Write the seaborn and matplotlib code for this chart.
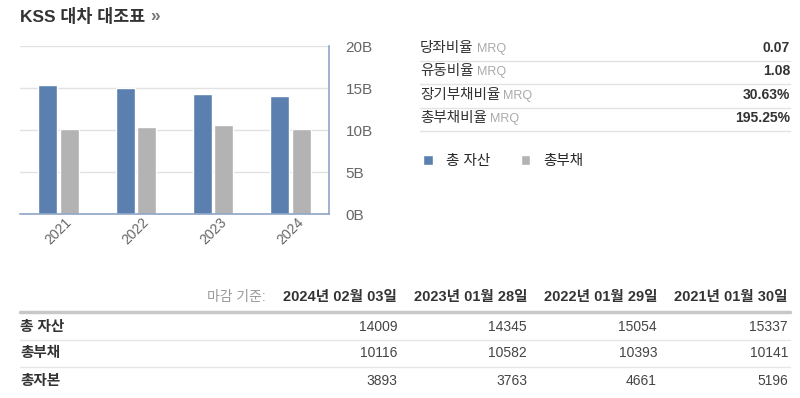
import pandas as pd
import seaborn as sns
import matplotlib.pyplot as plt
from matplotlib.lines import Line2D

# values in millions (USD)
years = ["2021", "2022", "2023", "2024"]
total_assets = [15337, 15054, 14345, 14009]
total_liab = [10141, 10393, 10582, 10116]

ratio_names = ["당좌비율", "유동비율", "장기부채비율", "총부채비율"]
ratio_values = ["0.07", "1.08", "30.63%", "195.25%"]

table_dates = ["2024년 02월 03일", "2023년 01월 28일", "2022년 01월 29일", "2021년 01월 30일"]
table_rows = ["총 자산", "총부채", "총자본"]
table_assets = [14009, 14345, 15054, 15337]
table_liab = [10116, 10582, 10393, 10141]
table_equity = [3893, 3763, 4661, 5196]

BLUE = "#5b80b0"
GRAY = "#b3b3b3"
AXC = "#8ea6c6"

sns.set_style("white")
plt.rcParams["font.family"] = ["Liberation Sans", "Noto Sans CJK KR", "DejaVu Sans"]

W, H = 800, 398
fig = plt.figure(figsize=(W / 100, H / 100), dpi=100)

def fx(px):
    return px / W

def fy(py):
    return 1 - py / H

df = pd.DataFrame({
    "year": years * 2,
    "value": [v / 1000 for v in total_assets] + [v / 1000 for v in total_liab],
    "kind": ["총 자산"] * 4 + ["총부채"] * 4,
})

ax = fig.add_axes([fx(20), fy(214), fx(329) - fx(20), fy(46) - fy(214)])
sns.barplot(data=df, x="year", y="value", hue="kind", palette=[BLUE, GRAY],
            width=0.56, gap=0.12, ax=ax, legend=True, saturation=1)
ax.set_xlim(-0.5, 3.5)
ax.set_ylim(0, 20)
ax.set_yticks([0, 5, 10, 15, 20])
ax.set_yticklabels(["0B", "5B", "10B", "15B", "20B"])
ax.yaxis.tick_right()
ax.tick_params(axis="y", length=0, pad=12, labelsize=11, labelcolor="#666666")
ax.grid(axis="y", color="#e2e2e2", lw=1)
ax.set_axisbelow(True)
ax.set_xlabel("")
ax.set_ylabel("")
ax.set_xticks(range(4))
ax.set_xticklabels(years, rotation=45, ha="center", fontsize=10, color="#666666")
ax.tick_params(axis="x", length=0, pad=1)
ax.set_xticks([0.5, 1.5, 2.5, 3.5], minor=True)
ax.tick_params(axis="x", which="minor", length=5, color=AXC, width=1)
for s in ["top", "left"]:
    ax.spines[s].set_visible(False)
ax.spines["bottom"].set_color(AXC)
ax.spines["right"].set_color(AXC)
ax.spines["bottom"].set_linewidth(1.2)
ax.spines["right"].set_linewidth(1.2)

sns.move_legend(ax, "center left", bbox_to_anchor=(fx(410), fy(161)),
                bbox_transform=fig.transFigure, ncol=2, frameon=False, title=None,
                handlelength=0.65, handleheight=0.65, handletextpad=0.9,
                columnspacing=2.1, fontsize=10.5)

# title
renderer = fig.canvas.get_renderer()
tt = fig.text(fx(20), fy(17), "KSS 대차 대조표", fontsize=12.5, fontweight="bold",
              color="#333333", va="center")
fig.text(tt.get_window_extent(renderer).x1 / W + fx(5), fy(17), "»", fontsize=12.5,
         fontweight="bold", color="#777777", va="center")

# ratio table
row_y = [48, 71, 95, 118]
for name, val, y in zip(ratio_names, ratio_values, row_y):
    t = fig.text(fx(420), fy(y), name, fontsize=10.5, color="#333333", va="center")
    bb = t.get_window_extent(renderer)
    fig.text(bb.x1 / W + fx(3), fy(y + 1), "MRQ", fontsize=9, color="#aaaaaa", va="center")
    fig.text(fx(790), fy(y), val, fontsize=10, fontweight="bold", color="#333333",
             va="center", ha="right")
    fig.add_artist(Line2D([fx(420), fx(790)], [fy(y + 13), fy(y + 13)], color="#e3e3e3", lw=1))

# bottom table
col_x = [397, 527, 657, 788]
fig.text(fx(266), fy(297), "마감 기준:", fontsize=10, color="#999999", va="center", ha="right")
for d, x in zip(table_dates, col_x):
    fig.text(fx(x), fy(297), d, fontsize=10.5, fontweight="bold", color="#333333",
             va="center", ha="right")
fig.add_artist(Line2D([fx(20), fx(790)], [fy(312), fy(312)], color="#c8c8c8", lw=2.5))
rows_y = [327, 353, 381]
for lab, vals, y in zip(table_rows, [table_assets, table_liab, table_equity], rows_y):
    fig.text(fx(20), fy(y), lab, fontsize=10.5, fontweight="bold", color="#333333", va="center")
    for v, x in zip(vals, col_x):
        fig.text(fx(x), fy(y), str(v), fontsize=10, color="#444444", va="center", ha="right")
for y in [340, 367]:
    fig.add_artist(Line2D([fx(20), fx(790)], [fy(y), fy(y)], color="#e6e6e6", lw=1))

fig.savefig("out.png", dpi=100)
